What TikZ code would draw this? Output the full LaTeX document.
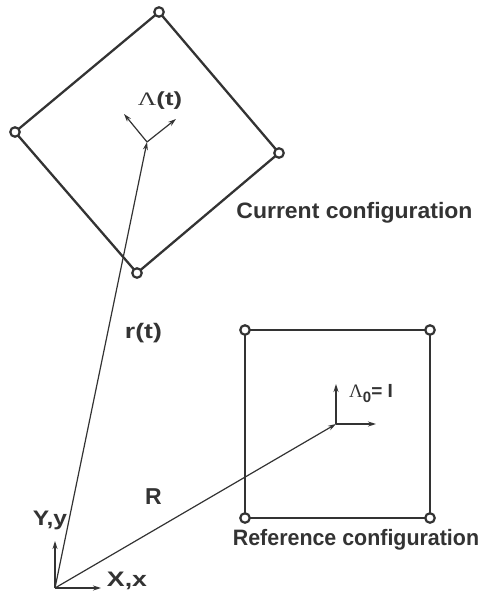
\documentclass[tikz,border=0pt]{standalone}
\usepackage{fontspec}
\setmainfont{Liberation Sans}
\newfontfamily\grk{Liberation Serif}
\usetikzlibrary{arrows.meta}
\definecolor{ink}{HTML}{333333}
\tikzset{
  edge/.style={draw=ink, line width=2.3pt},
  vert/.style={circle, draw=ink, line width=2.2pt, fill=white, minimum size=9.5pt, inner sep=0pt},
  vec/.style={draw=ink, line width=1.2pt, -{Stealth[length=8pt,width=5pt]}},
  lbl/.style={text=ink, font=\fontsize{22.3}{26}\selectfont\bfseries, inner sep=0pt},
  slbl/.style={text=ink, font=\fontsize{21}{24}\selectfont\bfseries, inner sep=0pt}
}
\newcommand{\Lam}{{\grk\mdseries Λ}}
\newcommand{\wide}[1]{\scalebox{1.27}[1]{#1}}
\begin{document}
\begin{tikzpicture}[x=1pt,y=-1pt]
\useasboundingbox (0,0) rectangle (484,599);
% current configuration (diamond)
\coordinate (dt) at (159,12);
\coordinate (dl) at (15,132);
\coordinate (dr) at (279,153);
\coordinate (db) at (137,273);
\draw[edge] (dt) -- (dr) -- (db) -- (dl) -- cycle;
% reference configuration (square)
\coordinate (s1) at (245,330);
\coordinate (s2) at (430,330);
\coordinate (s3) at (430,518);
\coordinate (s4) at (245,518);
\draw[edge] (s1) -- (s2) -- (s3) -- (s4) -- cycle;
% origin and frames
\coordinate (O) at (55,588);
\coordinate (Oy) at (55,541);
\coordinate (Ox) at (101,588);
\coordinate (F) at (147,142);
\coordinate (Fa) at (124,114);
\coordinate (Fb) at (176,119);
\coordinate (G) at (336,424);
\coordinate (Gy) at (336,384);
\coordinate (Gx) at (376,424);
\draw[vec] (O) -- (Oy);
\draw[vec] (O) -- (Ox);
\draw[vec] (O) -- (F);
\draw[vec] (O) -- (G);
\draw[vec] (F) -- (Fa);
\draw[vec] (F) -- (Fb);
\draw[vec] (G) -- (Gy);
\draw[vec] (G) -- (Gx);
% vertices
\foreach \p in {dt,dl,dr,db,s1,s2,s3,s4} \node[vert] (v\p) at (\p) {};
% labels
\node[slbl, font=\fontsize{19}{22}\selectfont\bfseries] (lam) at (160,101) {\scalebox{1.35}[1]{\Lam(t)}};
\node[lbl] (cur) at (354.5,213) {\scalebox{1.03}[1]{Current configuration}};
\node[lbl] (ref) at (356,540) {\scalebox{0.96}[1]{Reference configuration}};
\node[slbl, font=\fontsize{19}{22}\selectfont\bfseries, anchor=base west] (lam0) at (349,397) {\Lam\raisebox{-0.3em}{\fontsize{15}{18}\selectfont 0}= I};
\node[slbl] (rt) at (143.5,333) {\wide{r(t)}};
\node[slbl, font=\fontsize{23}{26}\selectfont\bfseries] (R) at (153.5,497) {R};
\node[slbl] (Yy) at (50,520) {\scalebox{1.17}[1]{Y,y}};
\node[slbl] (Xx) at (127,581) {\wide{X,x}};
\end{tikzpicture}
\end{document}
